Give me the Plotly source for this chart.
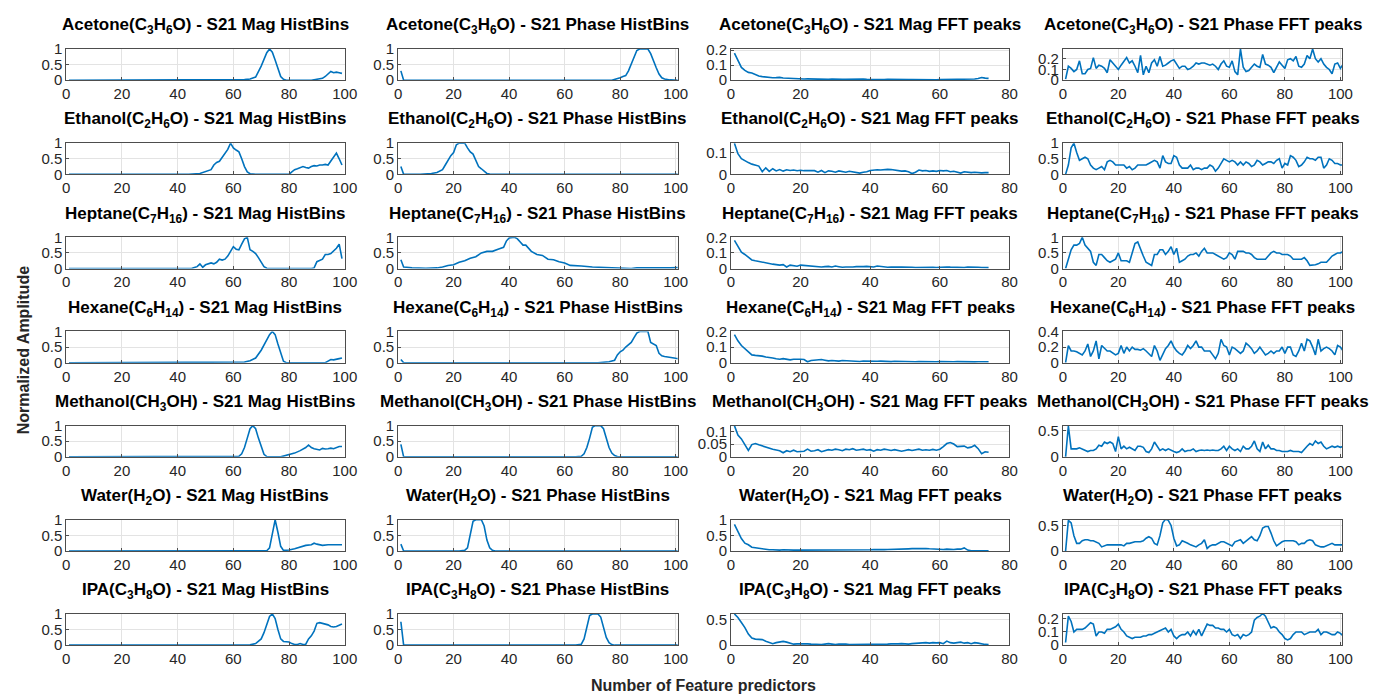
import plotly.graph_objects as go

# ---------------- data ----------------
compounds = [
    "Acetone(C<sub>3</sub>H<sub>6</sub>O)",
    "Ethanol(C<sub>2</sub>H<sub>6</sub>O)",
    "Heptane(C<sub>7</sub>H<sub>16</sub>)",
    "Hexane(C<sub>6</sub>H<sub>14</sub>)",
    "Methanol(CH<sub>3</sub>OH)",
    "Water(H<sub>2</sub>O)",
    "IPA(C<sub>3</sub>H<sub>8</sub>O)",
]
feature_sets = ["S21 Mag HistBins", "S21 Phase HistBins", "S21 Mag FFT peaks", "S21 Phase FFT peaks"]

# --- S21 magnitude histogram bins (bin index, normalized count) ---
acetone_mag_hist_x = [1, 60, 64, 66, 68, 70, 72, 73, 74, 75, 76, 77, 78, 79, 88, 90, 92, 93, 94, 95, 96, 97, 98, 99]
acetone_mag_hist_y = [0, 0, 0.02, 0.04, 0.1, 0.45, 0.88, 1.0, 0.9, 0.65, 0.35, 0.12, 0.03, 0, 0, 0.02, 0.06, 0.12, 0.2, 0.28, 0.24, 0.26, 0.24, 0.22]
ethanol_mag_hist_x = [1, 44, 48, 50, 52, 53, 54, 55, 56, 57, 58, 59, 60, 61, 62, 63, 64, 65, 66, 68, 80, 81, 82, 83, 84, 85, 86, 87, 88, 89, 90, 91, 92, 93, 94, 95, 96, 97, 98, 99]
ethanol_mag_hist_y = [0, 0, 0.03, 0.08, 0.15, 0.3, 0.38, 0.42, 0.55, 0.65, 0.8, 1.0, 0.85, 0.78, 0.72, 0.5, 0.25, 0.08, 0.02, 0, 0, 0.08, 0.15, 0.18, 0.22, 0.25, 0.22, 0.2, 0.25, 0.28, 0.27, 0.3, 0.3, 0.32, 0.3, 0.42, 0.55, 0.68, 0.5, 0.3]
heptane_mag_hist_x = [1, 32, 33, 34, 45, 46, 47, 48, 49, 50, 51, 52, 53, 54, 55, 56, 57, 58, 59, 60, 61, 62, 63, 64, 65, 66, 67, 68, 69, 70, 71, 72, 73, 88, 89, 90, 91, 92, 93, 94, 95, 96, 97, 98, 99]
heptane_mag_hist_y = [0, 0, 0.02, 0, 0, 0.03, 0.06, 0.15, 0.04, 0.12, 0.14, 0.18, 0.15, 0.2, 0.3, 0.27, 0.3, 0.4, 0.55, 0.7, 0.62, 0.6, 0.78, 0.95, 1.0, 0.6, 0.55, 0.48, 0.35, 0.2, 0.06, 0.01, 0, 0, 0.02, 0.22, 0.25, 0.3, 0.45, 0.45, 0.48, 0.55, 0.65, 0.78, 0.32]
hexane_mag_hist_x = [1, 62, 64, 66, 68, 70, 72, 73, 74, 75, 76, 77, 78, 79, 93, 94, 95, 96, 97, 98, 99]
hexane_mag_hist_y = [0, 0, 0.02, 0.06, 0.15, 0.4, 0.72, 0.9, 1.0, 0.9, 0.6, 0.3, 0.05, 0, 0, 0.05, 0.1, 0.09, 0.12, 0.13, 0.15]
methanol_mag_hist_x = [1, 61, 62, 63, 64, 65, 66, 67, 68, 69, 70, 71, 72, 73, 77, 78, 80, 82, 84, 86, 87, 88, 89, 90, 91, 92, 93, 94, 95, 96, 97, 98, 99]
methanol_mag_hist_y = [0, 0, 0.02, 0.1, 0.3, 0.6, 0.9, 1.0, 0.9, 0.6, 0.3, 0.08, 0.01, 0, 0, 0.02, 0.06, 0.12, 0.2, 0.3, 0.38, 0.3, 0.26, 0.25, 0.22, 0.27, 0.25, 0.26, 0.28, 0.26, 0.3, 0.33, 0.33]
water_mag_hist_x = [1, 72, 73, 74, 75, 76, 77, 78, 79, 80, 82, 84, 86, 88, 89, 90, 92, 94, 96, 98, 99]
water_mag_hist_y = [0, 0.01, 0.1, 0.6, 1.0, 0.6, 0.15, 0.02, 0.02, 0.03, 0.07, 0.12, 0.18, 0.2, 0.25, 0.22, 0.18, 0.2, 0.2, 0.21, 0.2]
ipa_mag_hist_x = [1, 66, 68, 70, 71, 72, 73, 74, 75, 76, 77, 78, 79, 80, 81, 82, 83, 84, 85, 86, 87, 88, 89, 90, 91, 92, 93, 94, 95, 96, 97, 98, 99]
ipa_mag_hist_y = [0, 0.01, 0.05, 0.2, 0.4, 0.7, 0.92, 1.0, 0.85, 0.5, 0.2, 0.12, 0.12, 0.1, 0.05, 0.02, 0.02, 0.05, 0.02, 0.03, 0.2, 0.3, 0.45, 0.7, 0.72, 0.7, 0.68, 0.65, 0.6, 0.58, 0.6, 0.65, 0.68]

# --- S21 phase histogram bins ---
acetone_phase_hist_x = [1, 2, 77, 78, 80, 81, 82, 83, 84, 85, 86, 87, 90, 91, 92, 93, 94, 95, 96, 97, 98, 101]
acetone_phase_hist_y = [0.3, 0, 0, 0.02, 0.08, 0.12, 0.15, 0.3, 0.5, 0.75, 0.95, 1.0, 1.0, 0.85, 0.6, 0.4, 0.2, 0.08, 0.04, 0.02, 0.01, 0]
ethanol_phase_hist_x = [1, 2, 8, 10, 12, 14, 16, 17, 18, 19, 20, 21, 22, 24, 25, 26, 27, 28, 29, 30, 31, 32, 33, 35, 101]
ethanol_phase_hist_y = [0.25, 0, 0, 0.01, 0.03, 0.06, 0.15, 0.3, 0.45, 0.6, 0.7, 0.95, 1.0, 1.0, 0.85, 0.72, 0.65, 0.45, 0.25, 0.18, 0.1, 0.03, 0.01, 0, 0]
heptane_phase_hist_x = [1, 2, 3, 5, 10, 14, 16, 18, 20, 22, 24, 26, 28, 30, 32, 34, 36, 38, 39, 40, 42, 43, 44, 45, 46, 48, 50, 52, 54, 56, 58, 60, 62, 64, 66, 70, 74, 78, 80, 84, 86, 90, 94, 98, 100, 101]
heptane_phase_hist_y = [0.28, 0.05, 0.04, 0.02, 0.01, 0.02, 0.05, 0.1, 0.12, 0.2, 0.25, 0.33, 0.38, 0.5, 0.55, 0.55, 0.62, 0.68, 0.88, 0.98, 1.0, 0.95, 0.85, 0.75, 0.75, 0.55, 0.45, 0.42, 0.3, 0.28, 0.22, 0.18, 0.1, 0.1, 0.08, 0.05, 0.03, 0.01, 0, 0, 0.02, 0.03, 0.02, 0.02, 0.04, 0.03]
hexane_phase_hist_x = [1, 2, 72, 74, 76, 78, 79, 80, 81, 82, 84, 85, 86, 87, 90, 91, 92, 93, 94, 95, 96, 98, 100, 101]
hexane_phase_hist_y = [0.1, 0, 0, 0.01, 0.03, 0.08, 0.25, 0.35, 0.4, 0.5, 0.65, 0.8, 0.95, 1.0, 1.0, 0.65, 0.6, 0.55, 0.3, 0.22, 0.2, 0.16, 0.14, 0.13]
methanol_phase_hist_x = [1, 2, 64, 66, 67, 68, 69, 70, 71, 73, 74, 75, 76, 77, 78, 79, 80, 101]
methanol_phase_hist_y = [0.4, 0, 0, 0.02, 0.1, 0.3, 0.6, 0.95, 1.0, 1.0, 0.9, 0.6, 0.3, 0.12, 0.04, 0.01, 0, 0]
water_phase_hist_x = [1, 2, 22, 24, 25, 26, 27, 28, 30, 31, 32, 33, 34, 35, 101]
water_phase_hist_y = [0.22, 0, 0, 0.02, 0.1, 0.5, 0.95, 1.0, 1.0, 0.8, 0.35, 0.1, 0.02, 0, 0]
ipa_phase_hist_x = [1, 2, 64, 66, 67, 68, 69, 70, 72, 73, 74, 75, 76, 77, 78, 101]
ipa_phase_hist_y = [0.75, 0, 0, 0.03, 0.2, 0.6, 0.95, 1.0, 1.0, 0.9, 0.55, 0.25, 0.08, 0.02, 0, 0]

# --- S21 magnitude FFT peaks (peaks 1..74) ---
acetone_mag_fft = [0.18, 0.13, 0.085, 0.065, 0.052, 0.048, 0.038, 0.028, 0.024, 0.02,
                   0.018, 0.016, 0.017, 0.019, 0.015, 0.013, 0.012, 0.011, 0.009, 0.008,
                   0.008, 0.009, 0.008, 0.01, 0.009, 0.008, 0.007, 0.006, 0.008, 0.009,
                   0.007, 0.006, 0.006, 0.007, 0.006, 0.005, 0.006, 0.007, 0.006, 0.005,
                   0.006, 0.005, 0.006, 0.005, 0.006, 0.005, 0.004, 0.005, 0.006, 0.005,
                   0.004, 0.005, 0.004, 0.005, 0.004, 0.004, 0.005, 0.004, 0.003, 0.004,
                   0.004, 0.005, 0.004, 0.004, 0.003, 0.004, 0.004, 0.005, 0.006, 0.008,
                   0.012, 0.018, 0.014, 0.012]
ethanol_mag_fft = [0.143, 0.095, 0.072, 0.062, 0.054, 0.047, 0.042, 0.038, 0.012, 0.03,
                   0.014, 0.026, 0.016, 0.022, 0.015, 0.021, 0.018, 0.02, 0.017, 0.019,
                   0.017, 0.018, 0.016, 0.017, 0.01, 0.018, 0.008, 0.016, 0.014, 0.01,
                   0.016, 0.012, 0.01, 0.014, 0.012, 0.008, 0.006, 0.01, 0.012, 0.018,
                   0.02, 0.021, 0.02, 0.022, 0.023, 0.022, 0.02, 0.016, 0.015, 0.016,
                   0.012, 0.004, 0.01, 0.02, 0.016, 0.018, 0.014, 0.016, 0.014, 0.018,
                   0.016, 0.018, 0.012, 0.014, 0.01, 0.006, 0.012, 0.01, 0.008, 0.01,
                   0.008, 0.007, 0.008, 0.008]
heptane_mag_fft = [0.18, 0.14, 0.105, 0.09, 0.07, 0.055, 0.05, 0.045, 0.04, 0.035,
                   0.03, 0.028, 0.025, 0.022, 0.025, 0.01, 0.022, 0.018, 0.015, 0.022,
                   0.02, 0.015, 0.012, 0.014, 0.012, 0.01, 0.012, 0.014, 0.01, 0.016,
                   0.012, 0.008, 0.01, 0.008, 0.01, 0.012, 0.01, 0.012, 0.014, 0.012,
                   0.01, 0.016, 0.012, 0.01, 0.008, 0.01, 0.008, 0.009, 0.01, 0.008,
                   0.009, 0.008, 0.007, 0.008, 0.007, 0.009, 0.01, 0.008, 0.007, 0.009,
                   0.008, 0.01, 0.009, 0.008, 0.011, 0.009, 0.007, 0.01, 0.008, 0.007,
                   0.008, 0.007, 0.006, 0.006]
hexane_mag_fft = [0.18, 0.14, 0.11, 0.09, 0.07, 0.05, 0.047, 0.045, 0.042, 0.036,
                  0.035, 0.03, 0.025, 0.022, 0.026, 0.024, 0.018, 0.022, 0.024, 0.022,
                  0.02, 0.006, 0.014, 0.016, 0.018, 0.02, 0.016, 0.012, 0.014, 0.012,
                  0.01, 0.014, 0.012, 0.01, 0.012, 0.01, 0.008, 0.011, 0.01, 0.008,
                  0.01, 0.009, 0.01, 0.008, 0.009, 0.007, 0.009, 0.008, 0.007, 0.008,
                  0.007, 0.008, 0.006, 0.008, 0.007, 0.006, 0.007, 0.008, 0.006, 0.007,
                  0.006, 0.008, 0.007, 0.006, 0.007, 0.006, 0.008, 0.007, 0.006, 0.005,
                  0.006, 0.005, 0.005, 0.006]
methanol_mag_fft = [0.122, 0.085, 0.07, 0.045, 0.025, 0.048, 0.052, 0.047, 0.042, 0.037,
                    0.033, 0.03, 0.027, 0.024, 0.016, 0.024, 0.02, 0.026, 0.02, 0.022,
                    0.022, 0.03, 0.022, 0.024, 0.028, 0.02, 0.024, 0.028, 0.026, 0.03,
                    0.028, 0.024, 0.03, 0.028, 0.032, 0.026, 0.028, 0.03, 0.026, 0.028,
                    0.022, 0.028, 0.026, 0.03, 0.028, 0.025, 0.028, 0.026, 0.022, 0.025,
                    0.028, 0.025, 0.027, 0.03, 0.026, 0.028, 0.026, 0.029, 0.026, 0.03,
                    0.04, 0.052, 0.056, 0.05, 0.04, 0.04, 0.042, 0.035, 0.038, 0.045,
                    0.032, 0.012, 0.02, 0.018]
water_mag_fft = [0.85, 0.62, 0.4, 0.25, 0.2, 0.12, 0.1, 0.08, 0.07, 0.05,
                 0.04, 0.04, 0.03, 0.03, 0.04, 0.03, 0.03, 0.03, 0.03, 0.03,
                 0.03, 0.03, 0.025, 0.03, 0.03, 0.025, 0.03, 0.03, 0.02, 0.025,
                 0.03, 0.03, 0.025, 0.03, 0.03, 0.03, 0.035, 0.04, 0.04, 0.04,
                 0.045, 0.04, 0.04, 0.045, 0.05, 0.05, 0.055, 0.06, 0.065, 0.07,
                 0.07, 0.075, 0.08, 0.08, 0.085, 0.08, 0.07, 0.06, 0.06, 0.055,
                 0.05, 0.06, 0.05, 0.05, 0.06, 0.06, 0.1, 0.03, 0.01, 0.01,
                 0.005, 0.005, 0.005, 0.005]
ipa_mag_fft = [0.62, 0.55, 0.45, 0.35, 0.22, 0.14, 0.12, 0.12, 0.11, 0.08,
               0.05, 0.03, 0.05, 0.07, 0.075, 0.06, 0.04, 0.02, 0.025, 0.03,
               0.03, 0.025, 0.02, 0.015, 0.01, 0.01, 0.02, 0.03, 0.02, 0.01,
               0.02, 0.025, 0.02, 0.01, 0.01, 0.015, 0.02, 0.01, 0.01, 0.015,
               0.02, 0.015, 0.02, 0.015, 0.02, 0.025, 0.02, 0.025, 0.03, 0.025,
               0.02, 0.03, 0.035, 0.04, 0.04, 0.05, 0.04, 0.05, 0.045, 0.05,
               0.03, 0.08, 0.05, 0.04, 0.05, 0.06, 0.04, 0.05, 0.03, 0.05,
               0.04, 0.02, 0.015, 0.01]

# --- S21 phase FFT peaks (peaks 1..101) ---
acetone_phase_fft = [0.01, 0.13, 0.11, 0.08, 0.1, 0.18, 0.06, 0.06, 0.1, 0.11,
                     0.21, 0.11, 0.14, 0.13, 0.11, 0.07, 0.19, 0.16, 0.13, 0.1,
                     0.14, 0.18, 0.21, 0.16, 0.18, 0.13, 0.07, 0.23, 0.05, 0.13,
                     0.07, 0.16, 0.19, 0.13, 0.22, 0.13, 0.14, 0.16, 0.18, 0.19,
                     0.15, 0.11, 0.13, 0.13, 0.1, 0.11, 0.13, 0.16, 0.15, 0.16,
                     0.16, 0.15, 0.14, 0.15, 0.13, 0.1, 0.15, 0.18, 0.13, 0.12,
                     0.18, 0.08, 0.05, 0.29, 0.12, 0.08, 0.09, 0.12, 0.15, 0.13,
                     0.12, 0.24, 0.15, 0.14, 0.12, 0.07, 0.12, 0.17, 0.14, 0.11,
                     0.19, 0.2, 0.18, 0.22, 0.13, 0.12, 0.15, 0.23, 0.2, 0.29,
                     0.2, 0.17, 0.2, 0.15, 0.12, 0.1, 0.06, 0.15, 0.16, 0.11, 0.15]
ethanol_phase_fft = [0, 0.3, 0.85, 1.0, 0.7, 0.45, 0.5, 0.55, 0.5, 0.3,
                     0.2, 0.15, 0.2, 0.25, 0.15, 0.4, 0.45, 0.4, 0.3, 0.3,
                     0.3, 0.3, 0.2, 0.25, 0.15, 0.2, 0.3, 0.3, 0.3, 0.3,
                     0.35, 0.4, 0.45, 0.4, 0.2, 0.6, 0.4, 0.35, 0.35, 0.6,
                     0.55, 0.3, 0.2, 0.2, 0.2, 0.3, 0.15, 0.2, 0.2, 0.15,
                     0.2, 0.2, 0.3, 0.25, 0.1, 0.2, 0.35, 0.5, 0.45, 0.4,
                     0.45, 0.4, 0.3, 0.4, 0.3, 0.4, 0.35, 0.25, 0.3, 0.45,
                     0.4, 0.3, 0.35, 0.4, 0.4, 0.35, 0.45, 0.5, 0.2, 0.35,
                     0.3, 0.6, 0.55, 0.45, 0.25, 0.3, 0.4, 0.55, 0.5, 0.5,
                     0.45, 0.55, 0.55, 0.2, 0.3, 0.5, 0.45, 0.35, 0.35, 0.3, 0.3]
heptane_phase_fft = [0, 0.3, 0.6, 0.75, 0.75, 0.8, 1.0, 0.75, 0.65, 0.55,
                     0.2, 0.1, 0.45, 0.45, 0.35, 0.25, 0.2, 0.25, 0.3, 0.5,
                     0.25, 0.25, 0.25, 0.2, 0.5, 0.8, 0.85, 0.6, 0.4, 0.2,
                     0.15, 0.1, 0.45, 0.45, 0.6, 0.6, 0.45, 0.55, 0.7, 0.45,
                     0.65, 0.2, 0.25, 0.3, 0.4, 0.45, 0.45, 0.5, 0.4, 0.55,
                     0.65, 0.5, 0.5, 0.5, 0.45, 0.4, 0.35, 0.3, 0.35, 0.5,
                     0.45, 0.3, 0.55, 0.55, 0.55, 0.5, 0.5, 0.45, 0.35, 0.3,
                     0.3, 0.3, 0.3, 0.4, 0.5, 0.55, 0.5, 0.5, 0.45, 0.45,
                     0.45, 0.4, 0.3, 0.3, 0.3, 0.3, 0.35, 0.25, 0.1, 0.1,
                     0.12, 0.15, 0.2, 0.2, 0.2, 0.3, 0.4, 0.45, 0.5, 0.5, 0.55]
hexane_phase_fft = [0, 0.22, 0.15, 0.15, 0.14, 0.12, 0.1, 0.15, 0.24, 0.08,
                    0.15, 0.28, 0.05, 0.22, 0.18, 0.15, 0.15, 0.13, 0.1, 0.12,
                    0.22, 0.12, 0.2, 0.15, 0.2, 0.17, 0.17, 0.16, 0.18, 0.15,
                    0.12, 0.08, 0.22, 0.15, 0.03, 0.1, 0.18, 0.22, 0.28, 0.2,
                    0.15, 0.12, 0.1, 0.15, 0.22, 0.18, 0.22, 0.28, 0.2, 0.2,
                    0.15, 0.15, 0.15, 0.1, 0.05, 0.12, 0.3, 0.22, 0.2, 0.1,
                    0.2, 0.18, 0.15, 0.12, 0.15, 0.25, 0.22, 0.18, 0.12, 0.15,
                    0.2, 0.15, 0.1, 0.12, 0.15, 0.12, 0.15, 0.15, 0.2, 0.12,
                    0.2, 0.2, 0.1, 0.08, 0.15, 0.25, 0.15, 0.3, 0.28, 0.2,
                    0.1, 0.3, 0.15, 0.18, 0.2, 0.18, 0.15, 0.1, 0.22, 0.2, 0.15]
methanol_phase_fft = [0, 0.58, 0.15, 0.15, 0.15, 0.17, 0.15, 0.12, 0.1, 0.12,
                      0.12, 0.15, 0.22, 0.2, 0.28, 0.25, 0.28, 0.25, 0.1, 0.38,
                      0.15, 0.2, 0.15, 0.18, 0.15, 0.12, 0.2, 0.2, 0.18, 0.1,
                      0.08, 0.15, 0.28, 0.2, 0.12, 0.15, 0.12, 0.15, 0.12, 0.1,
                      0.08, 0.1, 0.15, 0.1, 0.12, 0.12, 0.15, 0.1, 0.12, 0.13,
                      0.12, 0.13, 0.12, 0.13, 0.12, 0.12, 0.15, 0.2, 0.12, 0.2,
                      0.15, 0.12, 0.15, 0.1, 0.2, 0.15, 0.15, 0.2, 0.3, 0.15,
                      0.1, 0.28, 0.15, 0.22, 0.15, 0.15, 0.12, 0.12, 0.1, 0.1,
                      0.1, 0.12, 0.1, 0.1, 0.1, 0.08, 0.15, 0.2, 0.25, 0.22,
                      0.3, 0.25, 0.28, 0.2, 0.15, 0.18, 0.2, 0.18, 0.2, 0.18, 0.2]
water_phase_fft = [0, 0.6, 0.55, 0.3, 0.15, 0.15, 0.2, 0.22, 0.22, 0.2,
                   0.2, 0.18, 0.15, 0.08, 0.1, 0.12, 0.12, 0.12, 0.12, 0.12,
                   0.12, 0.1, 0.15, 0.15, 0.17, 0.18, 0.18, 0.18, 0.2, 0.25,
                   0.28, 0.25, 0.15, 0.12, 0.3, 0.55, 0.62, 0.6, 0.5, 0.25,
                   0.1, 0.12, 0.2, 0.18, 0.15, 0.12, 0.1, 0.08, 0.12, 0.15,
                   0.22, 0.05, 0.1, 0.12, 0.12, 0.15, 0.18, 0.18, 0.15, 0.12,
                   0.1, 0.18, 0.2, 0.22, 0.15, 0.2, 0.25, 0.28, 0.22, 0.2,
                   0.3, 0.45, 0.48, 0.48, 0.35, 0.2, 0.1, 0.15, 0.18, 0.2,
                   0.2, 0.2, 0.2, 0.18, 0.12, 0.15, 0.15, 0.2, 0.22, 0.2,
                   0.12, 0.1, 0.08, 0.08, 0.1, 0.12, 0.15, 0.12, 0.12, 0.12, 0.12]
ipa_phase_fft = [0.02, 0.22, 0.18, 0.1, 0.12, 0.12, 0.12, 0.13, 0.15, 0.17,
                 0.16, 0.07, 0.1, 0.1, 0.09, 0.12, 0.12, 0.13, 0.14, 0.16,
                 0.12, 0.1, 0.07, 0.06, 0.05, 0.06, 0.06, 0.06, 0.07, 0.07,
                 0.08, 0.08, 0.09, 0.1, 0.11, 0.12, 0.13, 0.1, 0.12, 0.07,
                 0.05, 0.07, 0.08, 0.08, 0.1, 0.07, 0.11, 0.08, 0.12, 0.07,
                 0.12, 0.16, 0.15, 0.15, 0.13, 0.13, 0.12, 0.12, 0.1, 0.12,
                 0.08, 0.07, 0.08, 0.05, 0.08, 0.07, 0.08, 0.1, 0.19, 0.21,
                 0.22, 0.24, 0.22, 0.17, 0.13, 0.14, 0.13, 0.1, 0.08, 0.05,
                 0.04, 0.05, 0.08, 0.1, 0.1, 0.1, 0.08, 0.09, 0.1, 0.1,
                 0.1, 0.12, 0.08, 0.1, 0.1, 0.09, 0.08, 0.08, 0.1, 0.09, 0.07]

# y-axis ranges / ticks per panel
mag_fft_ymax = [0.207, 0.143, 0.2, 0.2, 0.122, 1.0, 0.62]
mag_fft_ticks = [[0, 0.1, 0.2], [0, 0.1], [0, 0.1, 0.2], [0, 0.1, 0.2], [0, 0.05, 0.1], [0, 0.5, 1], [0, 0.5]]
phase_fft_ymax = [0.29, 1.0, 1.0, 0.4, 0.587, 0.61, 0.237]
phase_fft_ticks = [[0, 0.1, 0.2], [0, 0.5, 1], [0, 0.5, 1], [0, 0.2, 0.4], [0, 0.5], [0, 0.5], [0, 0.1, 0.2]]

# ---------------- assemble panels ----------------
mag_hist = [(acetone_mag_hist_x, acetone_mag_hist_y), (ethanol_mag_hist_x, ethanol_mag_hist_y),
            (heptane_mag_hist_x, heptane_mag_hist_y), (hexane_mag_hist_x, hexane_mag_hist_y),
            (methanol_mag_hist_x, methanol_mag_hist_y), (water_mag_hist_x, water_mag_hist_y),
            (ipa_mag_hist_x, ipa_mag_hist_y)]
phase_hist = [(acetone_phase_hist_x, acetone_phase_hist_y), (ethanol_phase_hist_x, ethanol_phase_hist_y),
              (heptane_phase_hist_x, heptane_phase_hist_y), (hexane_phase_hist_x, hexane_phase_hist_y),
              (methanol_phase_hist_x, methanol_phase_hist_y), (water_phase_hist_x, water_phase_hist_y),
              (ipa_phase_hist_x, ipa_phase_hist_y)]
mag_fft = [acetone_mag_fft, ethanol_mag_fft, heptane_mag_fft, hexane_mag_fft,
           methanol_mag_fft, water_mag_fft, ipa_mag_fft]
phase_fft = [acetone_phase_fft, ethanol_phase_fft, heptane_phase_fft, hexane_phase_fft,
             methanol_phase_fft, water_phase_fft, ipa_phase_fft]

W, H = 1382, 700
col_left = [63, 399, 736, 1072]
col_right = [345, 682, 1018, 1355]
row_top0, row_step, ax_h = 41, 96.5, 32

x_ranges = [[0, 100], [0, 100.7], [0, 80], [0, 100.7]]
x_ticks = [[0, 20, 40, 60, 80, 100], [0, 20, 40, 60, 80, 100], [0, 20, 40, 60, 80], [0, 20, 40, 60, 80, 100]]

LINE = "#0072BD"
AXC = "#262626"
FONT = "Liberation Sans, Arial, Helvetica, sans-serif"

fig = go.Figure()
layout = dict(
    width=W, height=H, margin=dict(l=0, r=0, t=0, b=0),
    paper_bgcolor="white", plot_bgcolor="white", showlegend=False,
    font=dict(family=FONT, color=AXC),
)
annotations = []

k = 0
for r in range(7):
    top = row_top0 + r * row_step
    bot = top + ax_h
    for c in range(4):
        k += 1
        if c == 0:
            xs, ys = mag_hist[r]
            yr, yt = [0, 1], [0, 0.5, 1]
        elif c == 1:
            xs, ys = phase_hist[r]
            yr, yt = [0, 1], [0, 0.5, 1]
        elif c == 2:
            ys = mag_fft[r]
            xs = list(range(1, len(ys) + 1))
            yr, yt = [0, mag_fft_ymax[r]], mag_fft_ticks[r]
        else:
            ys = phase_fft[r]
            xs = list(range(1, len(ys) + 1))
            yr, yt = [0, phase_fft_ymax[r]], phase_fft_ticks[r]

        fig.add_trace(go.Scatter(x=xs, y=ys, mode="lines", line=dict(color=LINE, width=1.6),
                                 xaxis=f"x{k}", yaxis=f"y{k}", cliponaxis=True, hoverinfo="skip"))

        common = dict(showline=True, linecolor="#4d4d4d", linewidth=0.8, mirror=True,
                      showgrid=True, gridcolor="#e3e3e3", gridwidth=1, zeroline=False,
                      ticks="inside", ticklen=3, tickcolor="#4d4d4d", tickwidth=0.8,
                      tickfont=dict(family=FONT, size=15, color=AXC))
        layout[f"xaxis{k}"] = dict(domain=[col_left[c] / W, col_right[c] / W], anchor=f"y{k}",
                                   range=x_ranges[c], tickvals=x_ticks[c], **common)
        layout[f"yaxis{k}"] = dict(domain=[1 - bot / H, 1 - top / H], anchor=f"x{k}",
                                   range=yr, tickvals=yt, **common)

        annotations.append(dict(
            text=f"<b>{compounds[r]} - {feature_sets[c]}</b>",
            xref="paper", yref="paper",
            x=(col_left[c] + col_right[c]) / 2 / W, y=1 - (top - 10) / H,
            xanchor="center", yanchor="bottom", showarrow=False,
            font=dict(family=FONT, size=17, color="black"),
        ))

annotations.append(dict(text="<b>Normalized Amplitude</b>", xref="paper", yref="paper",
                        x=20 / W, y=1 - 350 / H, xanchor="center", yanchor="middle",
                        textangle=-90, showarrow=False,
                        font=dict(family=FONT, size=16, color=AXC)))
annotations.append(dict(text="<b>Number of Feature predictors</b>", xref="paper", yref="paper",
                        x=708 / W, y=1 - 693 / H, xanchor="center", yanchor="middle",
                        showarrow=False, font=dict(family=FONT, size=16, color=AXC)))

layout["annotations"] = annotations
fig.update_layout(**layout)
fig.write_html("out.html")
